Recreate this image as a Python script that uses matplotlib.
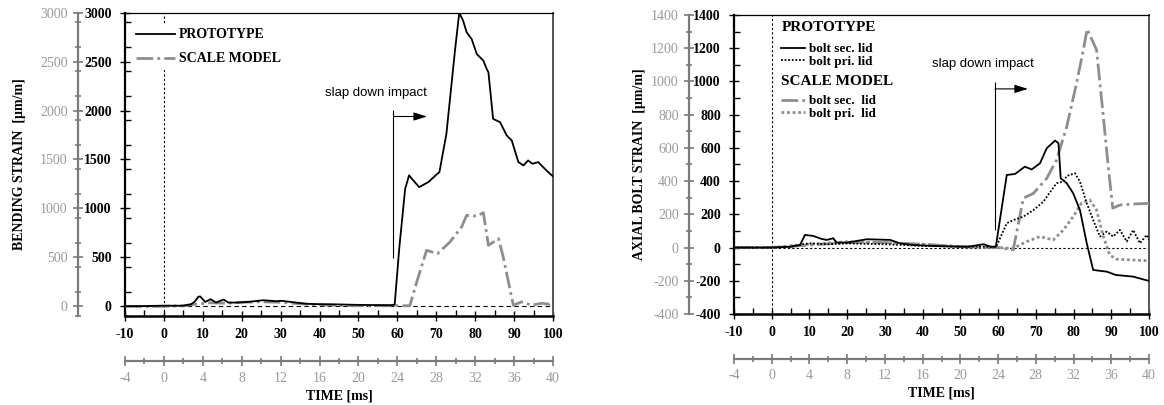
import numpy as np
import matplotlib
matplotlib.use("Agg")
from matplotlib import pyplot as plt

plt.rcParams['font.family'] = ['Liberation Serif', 'DejaVu Serif']

# ---- left panel: bending strain ----
bend_proto_t = [-10, -5, 0, 5, 7, 8, 8.8, 9.3, 10.6, 12, 13.4, 15.3, 16.6, 18.8, 22, 25.5, 28.9, 30.2, 34,
                36.6, 40.8, 45, 49.4, 53, 58, 59.3, 60.5, 62, 63, 64, 65.6, 68, 70.1, 70.8, 72.6, 74.8, 75.9,
                76.9, 77.8, 79.1, 80.4, 82.1, 82.9, 83.4, 84.6, 86.4, 88.1, 89.4, 91.1, 92.4, 93.6, 94.7, 96.2,
                98.3, 100]
bend_proto_v = [0, 2, 5, 5, 20, 50, 95, 100, 44, 71, 37, 68, 37, 37, 45, 61, 51, 55, 37,
                24, 20, 18, 14, 12, 10, 15, 600, 1200, 1337, 1290, 1217, 1270, 1347, 1370, 1762, 2612, 3000,
                2918, 2800, 2730, 2578, 2510, 2430, 2391, 1915, 1881, 1745, 1694, 1473, 1439, 1490, 1456, 1473,
                1388, 1327]
bend_scale_t = [-10, -5, 0, 5, 8, 12, 16, 20, 25, 30, 35, 40, 50, 60, 63.2, 65, 67.5, 70.3, 73.5, 76.5, 77.8,
                80.4, 82.1, 83.4, 86.0, 87.2, 89.8, 91.9, 94.5, 97, 99.2, 100]
bend_scale_v = [0, -5, 0, 5, 20, 35, 30, 40, 45, 40, 25, 15, 5, 5, 5, 250, 571, 537, 656, 809, 929,
                921, 956, 622, 690, 503, 10, 44, 10, 30, 20, 50]

# ---- right panel: axial bolt strain ----
bolt_proto_sec_t = [-10, 0, 5, 7.5, 8.8, 11, 13.2, 14.6, 16.3, 17.2, 20, 25.2, 31.4, 34, 37.5, 45, 52, 56.2, 58,
                    59.4, 62.3, 64.5, 67.1, 68.9, 71.1, 72.9, 75.1, 76.0, 76.6, 78.2, 79.9, 81.7, 83.5, 85.2,
                    88.8, 91.2, 95.8, 100]
bolt_proto_sec_v = [0, 0, 5, 15, 76, 70, 52, 46, 56, 30, 30, 50, 46, 25, 15, 8, 5, 20, 5,
                    5, 437, 443, 487, 470, 507, 598, 644, 628, 417, 387, 327, 226, 26, -135,
                    -145, -165, -175, -201]
bolt_proto_pri_t = [-10, 0, 5, 8, 10, 15, 20, 30, 40, 50, 59.5, 62.3, 64.1, 66.7, 69.4, 72.0, 74.2, 75.5, 77.3,
                    78.2, 80.4, 81.7, 83.5, 85.2, 87.0, 88.8, 90.5, 92.3, 94.1, 95.8, 97.6, 99.4, 100]
bolt_proto_pri_v = [0, 0, 5, 20, 25, 20, 25, 20, 10, 5, 5, 146, 166, 186, 226, 276, 347, 387, 397,
                    431, 447, 397, 267, 166, 66, 96, 66, 106, 36, 106, 26, 76, 46]
bolt_scale_sec_t = [-10, 0, 10, 20, 30, 40, 50, 60, 64.0, 66.7, 69.4, 72.9, 75.5, 78.2, 80.8, 82.6, 83.6, 86.1,
                    87.9, 89.2, 90.4, 92.3, 95.8, 100]
bolt_scale_sec_v = [0, 0, 15, 30, 30, 20, 5, 0, -14, 297, 327, 417, 527, 728, 989, 1190, 1315, 1190,
                    788, 487, 237, 256, 262, 266]
bolt_scale_pri_t = [-10, 0, 10, 20, 30, 40, 50, 60, 64, 67.6, 71.1, 74.6, 77.3, 79.9, 82.1, 84.3, 86.1, 87.9,
                    89.6, 91.4, 95.8, 100]
bolt_scale_pri_v = [0, 0, 20, 35, 30, 20, 5, 0, -5, 36, 66, 46, 106, 186, 267, 287, 226, 66,
                    -45, -70, -75, -80]

GRAY = '#8e8e8e'
GRAY_AX = '#7a7a7a'
GRAY_TXT = '#9a9a9a'
DASHDOT = (0, (6, 1.5, 1, 1.5))
FS = 10


def style_axes(ax, ylim, ymajor, yminor, ylabel, yshift_frac, labelpad):
    ax.set_xlim(-10, 100)
    xt = np.arange(-10, 101, 10)
    ax.set_xticks(xt, [str(v) for v in xt], fontweight='bold', fontsize=FS)
    ax.set_xticks(np.arange(-5, 100, 10), minor=True)
    yt = np.arange(ymajor[0], ymajor[1] + 1, ymajor[2])
    ax.set_yticks(yt, [str(v) for v in yt], fontweight='bold', fontsize=FS)
    ax.set_yticks(np.arange(ylim[0], ylim[1] + 1, yminor), minor=True)
    ax.set_ylim(*ylim)
    ax.tick_params(which='major', direction='inout', length=7, width=1, pad=6)
    ax.tick_params(which='minor', direction='in', length=4, width=1)
    ax.tick_params(axis='x', which='major', pad=5)
    ax.spines['left'].set_linewidth(1.6)
    ax.spines['bottom'].set_linewidth(1.8)
    ax.spines['top'].set_linewidth(0.9)
    ax.spines['right'].set_linewidth(1.4)
    ax.spines['right'].set_color('#555555')
    ax.set_ylabel(ylabel, fontweight='bold', fontsize=FS, labelpad=labelpad)

    # gray time axis in ms (scale model time)
    sec_x = ax.secondary_xaxis(-0.15, functions=(lambda x: x * 0.4, lambda x: x / 0.4))
    st = np.arange(-4, 41, 4)
    sec_x.set_xticks(st, [str(v) for v in st], color=GRAY_TXT, fontsize=FS)
    sec_x.set_xticks(np.arange(-2, 40, 4), minor=True)
    sec_x.tick_params(which='major', direction='inout', length=7, width=1.2, color=GRAY_AX, pad=4)
    sec_x.tick_params(which='minor', direction='inout', length=4, width=1.2, color=GRAY_AX)
    sec_x.spines['bottom'].set_color(GRAY_AX)
    sec_x.spines['bottom'].set_linewidth(1.6)
    sec_x.set_xlabel('TIME [ms]', fontweight='bold', fontsize=FS, labelpad=3)

    # gray strain axis
    sec_y = ax.secondary_yaxis(yshift_frac)
    sec_y.set_yticks(yt, [str(v) for v in yt], color=GRAY_TXT, fontsize=FS)
    sec_y.set_yticks(np.arange(ylim[0], ylim[1] + 1, yminor), minor=True)
    sec_y.tick_params(which='major', direction='inout', length=7, width=1.2, color=GRAY_AX, pad=4)
    sec_y.tick_params(which='minor', direction='inout', length=4, width=1.2, color=GRAY_AX)
    sec_y.spines['left'].set_color(GRAY_AX)
    sec_y.spines['left'].set_linewidth(1.6)


def add_impact_marker(ax, x0, x1, y0, y1, y_arrow, y_text, x_text):
    ax.vlines(x0, y0, y1, color='black', lw=0.8, zorder=2)
    ax.annotate('', xy=(x1, y_arrow), xytext=(x0, y_arrow),
                arrowprops=dict(arrowstyle='-|>,head_length=0.8,head_width=0.25', color='black', lw=0.8,
                                shrinkA=0, shrinkB=0))
    ax.text(x_text, y_text, 'slap down impact', family='Liberation Sans', fontsize=9.5, va='center', ha='left')


fig = plt.figure(figsize=(11.64, 4.05), dpi=100)

# ---------------- left ----------------
ax1 = fig.add_axes([0.1074, 0.2198, 0.3677, 0.7488])
ax1.axhline(0, color='black', lw=0.8, ls=(0, (4, 3)), zorder=1)
ax1.axvline(0, color='black', lw=0.8, ls=(0, (2, 2)), zorder=1)
ax1.plot(bend_scale_t, bend_scale_v, color=GRAY, lw=2.0, ls=DASHDOT, label='SCALE MODEL', zorder=3)
ax1.plot(bend_proto_t, bend_proto_v, color='black', lw=1.3, label='PROTOTYPE', zorder=4)
style_axes(ax1, (-100, 3000), (0, 3000, 500), 250, 'BENDING STRAIN  [µm/m]', -0.11, 42)
h, l = ax1.get_legend_handles_labels()
leg1 = ax1.legend(h[::-1], l[::-1], loc='upper left', bbox_to_anchor=(0.0, 0.985), frameon=True,
                  framealpha=1, edgecolor='none', prop={'weight': 'bold', 'size': FS}, handlelength=2.8,
                  handletextpad=0.3, labelspacing=0.8, borderpad=0.3)
leg1.set_zorder(5)
add_impact_marker(ax1, 59, 67.6, 490, 2010, 1939, 2184, 41.4)

# ---------------- right ----------------
ax2 = fig.add_axes([0.6306, 0.2247, 0.3565, 0.7383])
ax2.axhline(0, color='black', lw=0.8, ls=(0, (2, 2)), zorder=1)
ax2.axvline(0, color='black', lw=0.8, ls=(0, (2, 2)), zorder=1)
l_ps, = ax2.plot(bolt_proto_sec_t, bolt_proto_sec_v, color='black', lw=1.3, zorder=4)
l_pp, = ax2.plot(bolt_proto_pri_t, bolt_proto_pri_v, color='black', lw=1.3, ls=(0, (1, 1)), zorder=4)
l_ss, = ax2.plot(bolt_scale_sec_t, bolt_scale_sec_v, color=GRAY, lw=2.0, ls=DASHDOT, zorder=3)
l_sp, = ax2.plot(bolt_scale_pri_t, bolt_scale_pri_v, color=GRAY, lw=2.0, ls=(0, (1, 1)), zorder=3)
style_axes(ax2, (-400, 1400), (-400, 1400, 200), 100, 'AXIAL BOLT STRAIN  [µm/m]', -0.108, 34)

common = dict(frameon=False, handlelength=1.8, handletextpad=0.3, labelspacing=0.0, borderpad=0.1,
              alignment='left', prop={'weight': 'bold', 'size': 9.5},
              title_fontproperties={'weight': 'bold', 'size': 11})
leg_a = ax2.legend([l_ps, l_pp], ['bolt sec. lid', 'bolt pri. lid'], title='PROTOTYPE',
                   loc='upper left', bbox_to_anchor=(0.095, 1.008), **common)
leg_a._legend_box.sep = 7
ax2.add_artist(leg_a)
leg_b = ax2.legend([l_ss, l_sp], ['bolt sec.  lid', 'bolt pri.  lid'], title='SCALE MODEL',
                   loc='upper left', bbox_to_anchor=(0.095, 0.825), **common)
leg_b._legend_box.sep = 5
add_impact_marker(ax2, 59.2, 67.9, 106, 999, 955, 1105, 42.5)

fig.savefig('out.png', dpi=100)
